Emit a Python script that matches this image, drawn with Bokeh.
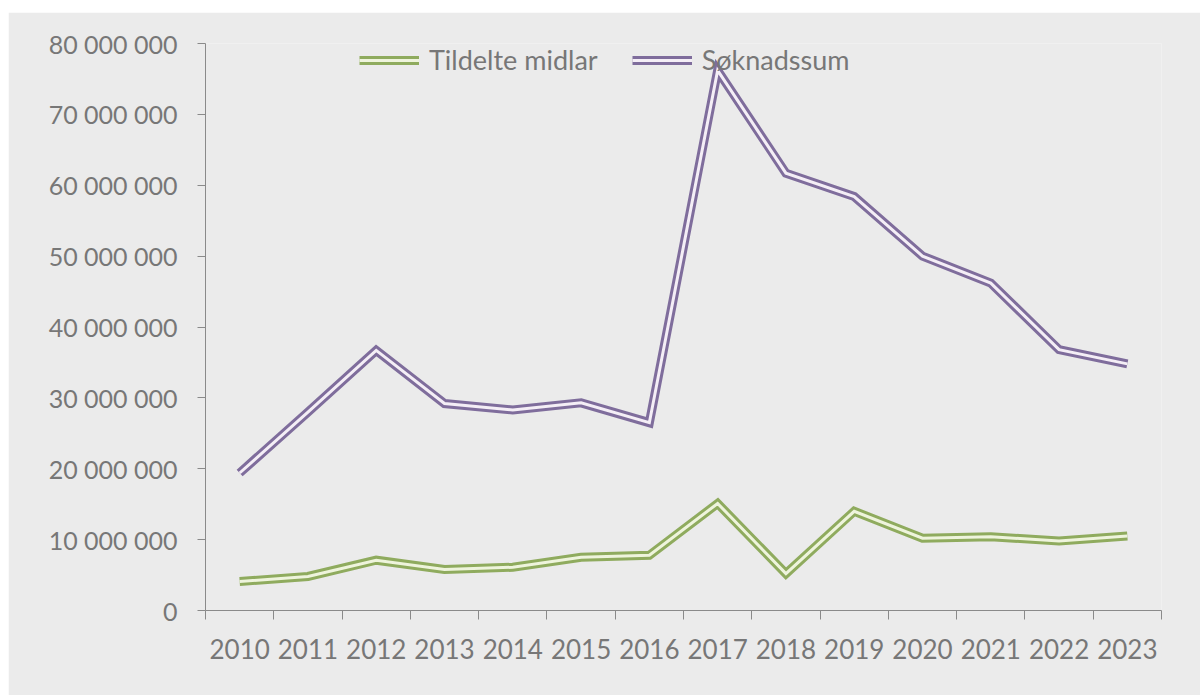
import numpy as np
from bokeh.plotting import figure
from bokeh.models import FixedTicker, Legend, LegendItem, Range1d, ColumnDataSource, Spacer
from bokeh.layouts import column, row
from bokeh.embed import file_html
from bokeh.resources import INLINE

years = ["2010", "2011", "2012", "2013", "2014", "2015", "2016",
         "2017", "2018", "2019", "2020", "2021", "2022", "2023"]
tildelte_midlar = [4.1e6, 4.8e6, 7.1e6, 5.8e6, 6.1e6, 7.5e6, 7.8e6,
                   15.1e6, 5.2e6, 14.0e6, 10.2e6, 10.4e6, 9.8e6, 10.5e6]
soknadssum = [19.4e6, 28.0e6, 36.7e6, 29.2e6, 28.3e6, 29.3e6, 26.5e6,
              76.2e6, 61.7e6, 58.4e6, 50.0e6, 46.2e6, 36.8e6, 34.8e6]
y_ticks = [0, 10000000, 20000000, 30000000, 40000000, 50000000, 60000000, 70000000, 80000000]
series_names = ["Tildelte midlar", "Søknadssum"]

FONT = "Lato"
TXT = "#777777"
AX = "#8a8a8a"
BG = "#ebebeb"

n = len(years)
x = (np.arange(n) + 0.5).tolist()
src = ColumnDataSource(dict(x=x, t=tildelte_midlar, s=soknadssum))

p = figure(width=1192, height=683, output_backend="svg", toolbar_location=None,
           x_range=Range1d(0, n), y_range=Range1d(0, 80000000),
           min_border_left=197, min_border_right=39, min_border_top=31, min_border_bottom=85)
p.background_fill_color = BG
p.border_fill_color = BG
p.outline_line_color = None
p.grid.visible = False

# y axis
ya = p.yaxis[0]
ya.ticker = FixedTicker(ticks=y_ticks)
ya.major_label_overrides = {v: f"{v:,}".replace(",", " ") for v in y_ticks}
ya.axis_line_color = AX
ya.major_tick_line_color = AX
ya.major_tick_out = 8
ya.major_tick_in = 0
ya.minor_tick_line_color = None
ya.major_label_standoff = 20
ya.major_label_text_font = FONT
ya.major_label_text_font_size = "25px"
ya.major_label_text_color = TXT

# x axis: labels at category centres, tick marks between categories
xa = p.xaxis[0]
xa.ticker = FixedTicker(ticks=x, minor_ticks=list(range(n + 1)))
xa.major_label_overrides = {xi: yr for xi, yr in zip(x, years)}
xa.axis_line_color = AX
xa.major_tick_line_color = None
xa.major_tick_out = 0
xa.major_tick_in = 0
xa.minor_tick_line_color = AX
xa.minor_tick_out = 9
xa.minor_tick_in = 0
xa.major_label_standoff = 19
xa.major_label_text_font = FONT
xa.major_label_text_font_size = "26px"
xa.major_label_text_color = TXT

# double lines
g_out = p.line("x", "t", source=src, line_color="#8fab5e", line_width=9, line_join="miter")
g_in = p.line("x", "t", source=src, line_color="#eef4dc", line_width=3, line_join="miter")
s_out = p.line("x", "s", source=src, line_color="#7f6d9c", line_width=9, line_join="miter")
s_in = p.line("x", "s", source=src, line_color="#f4eef6", line_width=3, line_join="miter")

legend = Legend(items=[LegendItem(label=series_names[0], renderers=[g_out, g_in]),
                       LegendItem(label=series_names[1], renderers=[s_out, s_in])],
                orientation="horizontal", location=(154, 534))
legend.background_fill_alpha = 0
legend.border_line_color = None
legend.label_text_font = FONT
legend.label_text_font_size = "27px"
legend.label_text_color = TXT
legend.glyph_width = 60
legend.glyph_height = 30
legend.label_standoff = 10
legend.label_height = 30
legend.spacing = 34
legend.padding = 0
legend.margin = 0
p.add_layout(legend, "center")

layout = column(Spacer(height=12), row(Spacer(width=8), p))
open("out.html", "w").write(file_html(layout, INLINE))
